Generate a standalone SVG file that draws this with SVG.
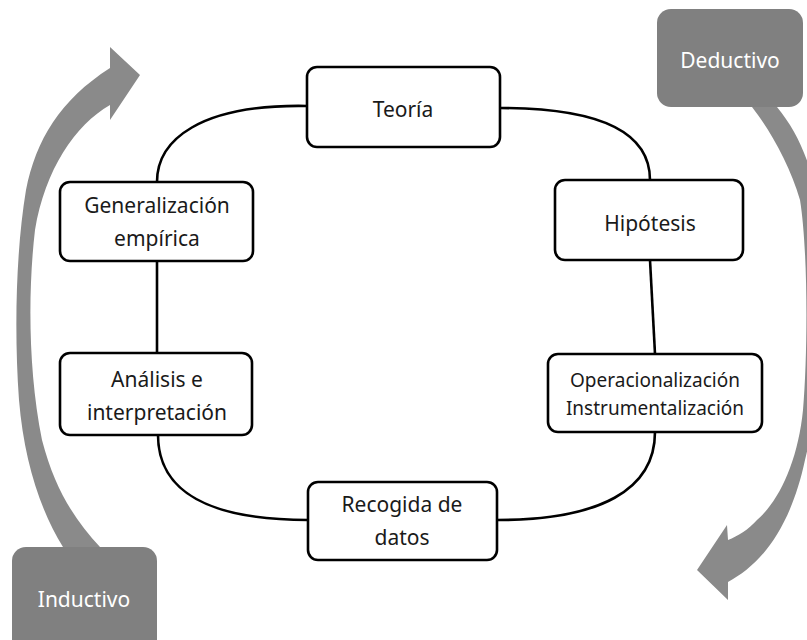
<svg xmlns="http://www.w3.org/2000/svg" width="807" height="640" viewBox="0 0 807 640">
<style>
.node rect{fill:#fff;stroke:#000;stroke-width:2.6}
.node text{font-family:"Noto Sans","Open Sans",sans-serif;font-size:21px;fill:#1a1a1a;text-anchor:middle}
.tag rect{fill:#808080;stroke:none}
.tag text{font-family:"Noto Sans","Open Sans",sans-serif;font-size:21px;fill:#fff;text-anchor:middle}
.conn path{fill:none;stroke:#000;stroke-width:2.6}
.arrow{fill:#8a8a8a;stroke:none}
</style>
<rect width="807" height="640" fill="#fff"/>
<g id="arrows">
<path class="arrow" d="M63,547 C40,510 24,460 19,400 C14,330 16,250 26,190 C36,140 60,100 110,68 L110,47 L140,75 L110,120 L110,105 C75,125 45,170 35,230 C28,290 28,370 42,440 C55,490 75,520 100,547 Z"/>
<path class="arrow" d="M752,107 C770,130 790,165 800,200 C808,250 808,350 803,410 C798,460 780,500 757,520 C748,530 738,536 728,540 L727,525 L697,570 L728,600 L728,582 C760,565 790,530 805,460 C822,390 828,300 822,230 C815,170 800,135 777,107 Z"/>
</g>
<g id="connectors" class="conn">
<path d="M307,106 C200,104 157,140 157,182"/>
<path d="M500,108 C605,108 650,135 650,180"/>
<path d="M157,261 L157,353"/>
<path d="M650,260 L655,354"/>
<path d="M158,435 C158,492 210,520 308,520"/>
<path d="M497,520 C600,520 655,490 655,432"/>
</g>
<g id="teoria" class="node"><rect x="307" y="67" width="193" height="80" rx="10"/><text x="403" y="117">Teoría</text></g>
<g id="generalizacion" class="node"><rect x="60" y="182" width="193" height="79" rx="10"/><text x="157" y="213">Generalización</text><text x="157" y="246">empírica</text></g>
<g id="hipotesis" class="node"><rect x="555" y="180" width="188" height="80" rx="10"/><text x="650" y="231">Hipótesis</text></g>
<g id="analisis" class="node"><rect x="60" y="353" width="192" height="82" rx="10"/><text x="157" y="387">Análisis e</text><text x="157" y="420">interpretación</text></g>
<g id="operacionalizacion" class="node"><rect x="548" y="354" width="214" height="78" rx="10"/><text x="655" y="387" style="font-size:19px">Operacionalización</text><text x="655" y="415" style="font-size:19px">Instrumentalización</text></g>
<g id="recogida" class="node"><rect x="308" y="482" width="189" height="78" rx="10"/><text x="402" y="512">Recogida de</text><text x="402" y="545">datos</text></g>
<g id="deductivo" class="tag"><rect x="657" y="9" width="146" height="98" rx="14"/><text x="730" y="68">Deductivo</text></g>
<g id="inductivo" class="tag"><rect x="12" y="547" width="145" height="110" rx="14"/><text x="84" y="607">Inductivo</text></g>
</svg>
